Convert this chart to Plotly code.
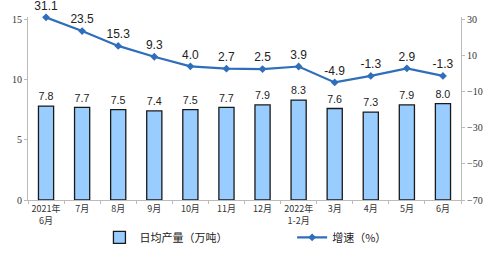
import plotly.graph_objects as go

categories = ["2021年<br>6月", "7月", "8月", "9月", "10月", "11月", "12月",
              "2022年<br>1-2月", "3月", "4月", "5月", "6月"]
daily_output = [7.8, 7.7, 7.5, 7.4, 7.5, 7.7, 7.9, 8.3, 7.6, 7.3, 7.9, 8.0]
growth = [31.1, 23.5, 15.3, 9.3, 4.0, 2.7, 2.5, 3.9, -4.9, -1.3, 2.9, -1.3]
left_ticks = [0, 5, 10, 15]
right_ticks = [-70, -50, -30, -10, 10, 30]

fig = go.Figure()
fig.add_trace(go.Bar(
    x=categories, y=daily_output, name="日均产量（万吨）", legend="legend",
    marker=dict(color="#99CCFF", line=dict(color="#1a1a1a", width=1.3)),
    width=0.42,
    text=[f"{v:.1f}" for v in daily_output], textposition="outside",
    textfont=dict(family="Liberation Sans, Arial", size=12, color="#222"),
    cliponaxis=False,
))
fig.add_trace(go.Scatter(
    x=categories, y=growth, name="增速（%）", yaxis="y2", legend="legend2",
    mode="lines+markers+text",
    line=dict(color="#2F6EBA", width=2.2),
    marker=dict(symbol="diamond", size=6, color="#2F6EBA"),
    text=[f"{v:.1f}" for v in growth], textposition="top center",
    textfont=dict(family="Liberation Sans, Arial", size=12, color="#222"),
    cliponaxis=False,
))

tickfont = dict(family="Liberation Serif, Noto Sans CJK SC", size=10, color="#333")
legfont = dict(family="Noto Sans CJK SC", size=11, color="#222")
fig.update_layout(
    width=492, height=257,
    margin=dict(l=28, r=31, t=17, b=57),
    plot_bgcolor="white", paper_bgcolor="white",
    showlegend=True,
    legend=dict(orientation="h", x=0.165, xanchor="left", y=0.02, yanchor="bottom",
                yref="container", font=legfont, bgcolor="rgba(0,0,0,0)"),
    legend2=dict(orientation="h", x=0.61, xanchor="left", y=0.02, yanchor="bottom",
                 yref="container", font=legfont, bgcolor="rgba(0,0,0,0)"),
    xaxis=dict(showline=True, linecolor="#BBBBBB", linewidth=1, ticks="outside",
               tickcolor="#BBBBBB", ticklen=3, tickson="boundaries", tickangle=0,
               tickfont=dict(family="Noto Sans CJK SC", size=9, color="#333"),
               showgrid=False, range=[-0.5, 11.5], automargin=False),
    yaxis=dict(range=[0, 15.2], tickvals=left_ticks, showline=True, linecolor="#BBBBBB",
               linewidth=1, ticks="outside", tickcolor="#BBBBBB", ticklen=3,
               showgrid=False, zeroline=False, tickfont=tickfont, automargin=False),
    yaxis2=dict(range=[-70, 31.3], tickvals=right_ticks, overlaying="y", side="right",
                showline=True, linecolor="#BBBBBB", linewidth=1, ticks="outside",
                tickcolor="#BBBBBB", ticklen=3, showgrid=False, zeroline=False,
                tickfont=tickfont, automargin=False),
)
fig.write_html("out.html")
